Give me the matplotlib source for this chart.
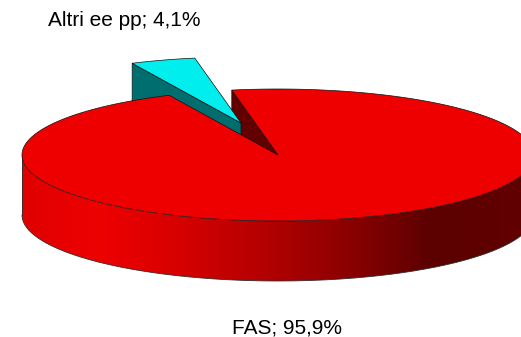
import numpy as np
import matplotlib
matplotlib.use('Agg')
import matplotlib.pyplot as plt
from matplotlib.colors import LinearSegmentedColormap
from matplotlib.patches import Polygon

labels = ['FAS', 'Altri ee pp']
shares = [95.9, 4.1]
label_texts = ['FAS; 95,9%', 'Altri ee pp; 4,1%']

# pie geometry in pixels
cx, cy = 278, 155
rx, ry = 256, 66
depth = 60
start = 100.4
explode = (-37, -32)

plt.rcParams['font.family'] = ['Liberation Sans', 'DejaVu Sans']
fig = plt.figure(figsize=(5.21, 3.37), dpi=100)
ax = fig.add_axes([0, 0, 1, 1])
ax.set_xlim(0, 521)
ax.set_ylim(337, 0)
ax.axis('off')


def arc(a1, a2, x0, y0):
    t = np.radians(np.linspace(a1, a2, 300))
    return np.column_stack([x0 + rx * np.cos(t), y0 - ry * np.sin(t)])


def wedge(a1, a2, x0, y0):
    return np.vstack([[x0, y0], arc(a1, a2, x0, y0)])


# FAS runs clockwise from the start angle, the small slice fills the gap
end = start + 360 * shares[1] / sum(shares)
sx, sy = cx + explode[0], cy + explode[1]
line = dict(edgecolor='#101010', linewidth=0.5)

# dark inner face of the big slice
p = np.array([cx + rx * np.cos(np.radians(start)), cy - ry * np.sin(np.radians(start))])
ax.add_patch(Polygon([p, [cx, cy], [cx, cy + depth], p + [0, depth]],
                     facecolor='#620000', zorder=1, **line))

# small slice: side face, then top
q = np.array([sx + rx * np.cos(np.radians(end)), sy - ry * np.sin(np.radians(end))])
ax.add_patch(Polygon([q, [sx, sy], [sx, sy + depth], q + [0, depth]],
                     facecolor='#006E6E', zorder=2, **line))
ax.add_patch(Polygon(wedge(start, end, sx, sy), facecolor='#00EEEE', zorder=3, **line))

# rim of the big slice with the shading across it
low = arc(180, 360, cx, cy + depth)
up = arc(360, 180, cx, cy)
rim = Polygon(np.vstack([up, low]), facecolor='none', edgecolor='none', zorder=4)
ax.add_patch(rim)
shade = LinearSegmentedColormap.from_list('rim', [
    (0.00, '#E00000'), (0.15, '#EE0000'), (0.30, '#D80000'), (0.50, '#AE0000'),
    (0.65, '#880000'), (0.80, '#5C0000'), (1.00, '#620000')])
im = ax.imshow(np.linspace(0, 1, 512).reshape(1, -1), cmap=shade, vmin=0, vmax=1,
               extent=[cx - rx, cx + rx, cy + ry + depth, cy - ry], aspect='auto', zorder=4)
im.set_clip_path(rim)
ax.set_xlim(0, 521)
ax.set_ylim(337, 0)
ax.plot(low[:, 0], low[:, 1], color='#303030', lw=0.6, zorder=5)
ax.plot([cx - rx, cx - rx], [cy, cy + depth], color='#303030', lw=0.6, zorder=5)

# top of the big slice
ax.add_patch(Polygon(wedge(end, start + 360, cx, cy), facecolor='#EE0000', zorder=6, **line))

ax.text(124.5, 21, label_texts[1], ha='center', va='center', fontsize=15, color='black')
ax.text(287, 328, label_texts[0], ha='center', va='center', fontsize=15, color='black')

fig.savefig('out.png', dpi=100)
